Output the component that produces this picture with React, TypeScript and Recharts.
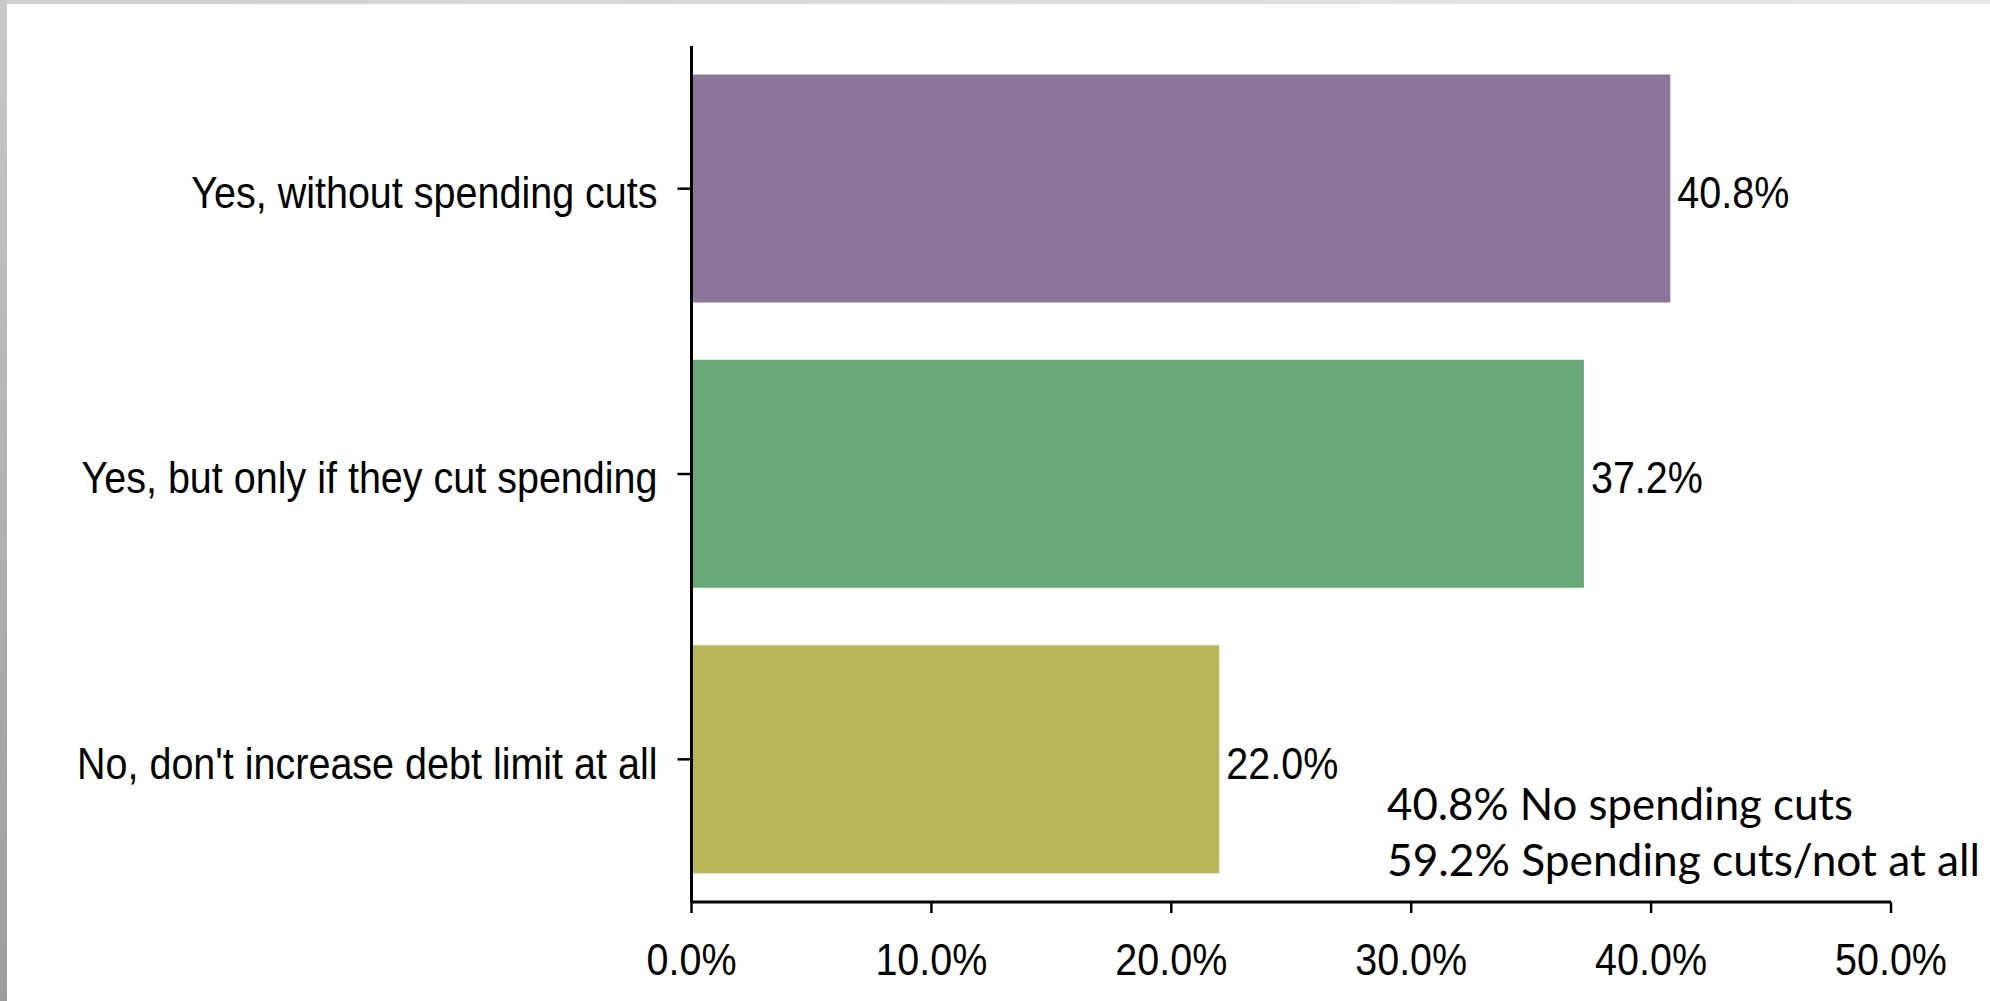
import { BarChart, Bar, XAxis, YAxis, Cell, LabelList } from "recharts";

// survey answers, top to bottom
const categories = [
  "Yes, without spending cuts",
  "Yes, but only if they cut spending",
  "No, don't increase debt limit at all",
];
const shares = [40.8, 37.2, 22.0];
const barColors = ["#8c7598", "#69a779", "#b6b659"];
const xTicks = [0, 10, 20, 30, 40, 50];
const noteLines = ["40.8% No spending cuts", "59.2% Spending cuts/not at all"];

const W = 1990;
const H = 1001;
const axisFont = "'Liberation Sans', Arial, Helvetica, sans-serif";
const FS = 39.5;
// the source picture was stretched a bit vertically
const STRETCH = 1.1;

const pct = (v: number) => `${Number(v).toFixed(1)}%`;

// text drawn with its vertical centre at (x, y)
function StretchedText({ x, y, anchor, children }: any) {
  return (
    <g transform={`translate(${x},${y + 4}) scale(1,${STRETCH})`}>
      <text
        x={0}
        y={0}
        dy="0.355em"
        textAnchor={anchor}
        fontSize={FS}
        fontFamily={axisFont}
        fill="#000"
      >
        {children}
      </text>
    </g>
  );
}

function CategoryTick(props: any) {
  const { x, y, payload } = props;
  return (
    <StretchedText x={x} y={y} anchor="end">
      {payload.value}
    </StretchedText>
  );
}

function PctTick(props: any) {
  const { x, y, payload } = props;
  return (
    <g transform={`translate(${x},${y}) scale(1,${STRETCH})`}>
      <text
        x={0}
        y={0}
        dy="0.71em"
        textAnchor="middle"
        fontSize={FS}
        fontFamily={axisFont}
        fill="#000"
      >
        {pct(payload.value)}
      </text>
    </g>
  );
}

function ValueLabel(props: any) {
  const { x, y, width, height, value } = props;
  return (
    <StretchedText x={Number(x) + Number(width) + 7} y={Number(y) + Number(height) / 2} anchor="start">
      {pct(value)}
    </StretchedText>
  );
}

// widths of the two note lines in the source (Calibri)
const noteWidths = [466, 593];

export default function App() {
  const data = categories.map((name, i) => ({ name, value: shares[i] }));

  return (
    <div
      style={{
        position: "absolute",
        left: 0,
        top: 0,
        width: W,
        height: H,
        background: "#fff",
        overflow: "hidden",
      }}
    >
      <BarChart
        width={W}
        height={H}
        data={data}
        layout="vertical"
        barCategoryGap="10%"
        margin={{ top: 46, right: 99, bottom: 0, left: 0 }}
      >
        <XAxis
          type="number"
          domain={[0, 50]}
          ticks={xTicks}
          height={99}
          tickSize={11}
          tickMargin={31}
          axisLine={{ stroke: "#000", strokeWidth: 3 }}
          tickLine={{ stroke: "#000", strokeWidth: 2.5 }}
          tick={<PctTick />}
        />
        <YAxis
          type="category"
          dataKey="name"
          width={691.5}
          tickSize={14}
          tickMargin={20}
          axisLine={{ stroke: "#000", strokeWidth: 3 }}
          tickLine={{ stroke: "#000", strokeWidth: 2.5 }}
          tick={<CategoryTick />}
        />
        <Bar dataKey="value" isAnimationActive={false}>
          {data.map((d, i) => (
            <Cell key={d.name} fill={barColors[i]} />
          ))}
          <LabelList dataKey="value" content={<ValueLabel />} />
        </Bar>
      </BarChart>

      {/* side note, Calibri in the original */}
      <svg
        width={W}
        height={H}
        style={{ position: "absolute", left: 0, top: 0, pointerEvents: "none" }}
      >
        {noteLines.map((line, i) => (
          <text
            key={line}
            x={1387}
            y={820 + i * 56}
            fontSize={45}
            fontFamily="Lato, 'Open Sans', sans-serif"
            fill="#000"
            textLength={noteWidths[i]}
            lengthAdjust="spacingAndGlyphs"
          >
            {line}
          </text>
        ))}
      </svg>

      {/* grey frame of the screenshot */}
      <div
        style={{
          position: "absolute",
          left: 0,
          top: 0,
          width: W,
          height: 4,
          background: "linear-gradient(to right, #cfcfcf, #e8e8e8)",
        }}
      />
      <div
        style={{
          position: "absolute",
          left: 0,
          top: 0,
          width: 7,
          height: H,
          background: "linear-gradient(to bottom, #c8c8c8, #9c9c9c)",
        }}
      />
    </div>
  );
}
